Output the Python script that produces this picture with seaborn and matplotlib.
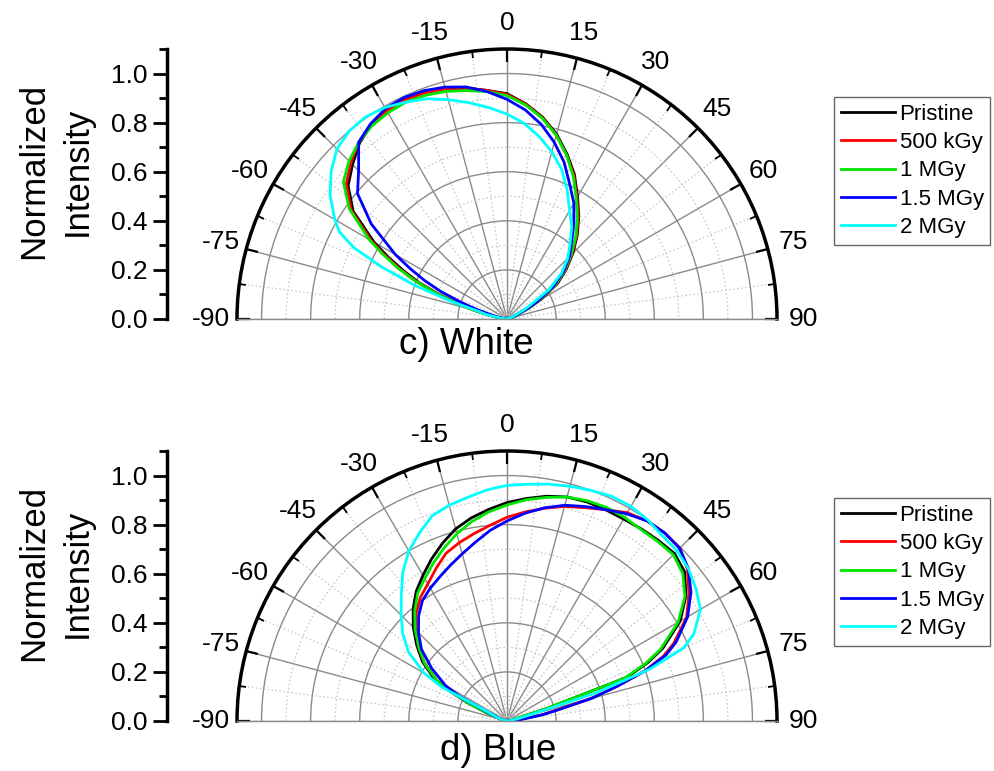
import numpy as np
import pandas as pd
import matplotlib
matplotlib.use("Agg")
import matplotlib.pyplot as plt
import seaborn as sns
from matplotlib.ticker import FixedLocator, MultipleLocator

plt.rcParams['font.family'] = ['Liberation Sans', 'DejaVu Sans']

# ---------------- data ----------------
series = ["Pristine", "500 kGy", "1 MGy", "1.5 MGy", "2 MGy"]
colors = ["#000000", "#FF0000", "#00E600", "#0000FF", "#00FFFF"]

angle_ticks = [-90, -75, -60, -45, -30, -15, 0, 15, 30, 45, 60, 75, 90]
angle_labels = ["-90", "-75", "-60", "-45", "-30", "-15", "0", "15", "30", "45", "60", "75", "90"]
r_ticks = [0.0, 0.2, 0.4, 0.6, 0.8, 1.0]
r_labels = ["0.0", "0.2", "0.4", "0.6", "0.8", "1.0"]

# c) White
white_angles = [-90, -85, -80, -77.5, -75, -72.5, -70, -67.5, -65, -62.5,
                -60, -55, -50, -45, -40, -35, -30, -25, -20, -15,
                -10, -5, 0, 5, 10, 15, 20, 25, 30, 35,
                40, 45, 50, 55, 60, 62.5, 65, 70, 75, 80,
                85, 90]
white_pristine = [0.00, 0.01, 0.04, 0.08, 0.14, 0.21, 0.30, 0.39, 0.465, 0.545,
                  0.625, 0.765, 0.845, 0.89, 0.935, 0.965, 0.98, 0.99, 0.985, 0.972,
                  0.955, 0.935, 0.918, 0.88, 0.835, 0.78, 0.715, 0.65, 0.575, 0.51,
                  0.445, 0.38, 0.315, 0.25, 0.16, 0.11, 0.07, 0.035, 0.015, 0.01,
                  0.005, 0.0]
white_500k = [0.00, 0.01, 0.04, 0.08, 0.14, 0.22, 0.31, 0.40, 0.48, 0.56,
              0.64, 0.775, 0.855, 0.90, 0.94, 0.965, 0.978, 0.985, 0.98, 0.97,
              0.955, 0.935, 0.915, 0.878, 0.832, 0.776, 0.71, 0.645, 0.57, 0.505,
              0.44, 0.375, 0.31, 0.245, 0.155, 0.105, 0.065, 0.03, 0.015, 0.01,
              0.005, 0.0]
white_1M = [0.00, 0.01, 0.04, 0.08, 0.14, 0.22, 0.31, 0.405, 0.49, 0.57,
            0.65, 0.785, 0.87, 0.91, 0.94, 0.96, 0.97, 0.975, 0.97, 0.96,
            0.945, 0.93, 0.91, 0.875, 0.83, 0.775, 0.71, 0.64, 0.565, 0.50,
            0.435, 0.37, 0.305, 0.24, 0.15, 0.10, 0.06, 0.03, 0.015, 0.01,
            0.005, 0.0]
white_1_5M = [0.00, 0.01, 0.03, 0.05, 0.07, 0.13, 0.20, 0.29, 0.37, 0.445,
              0.525, 0.675, 0.795, 0.855, 0.94, 0.97, 0.99, 0.995, 0.99, 0.978,
              0.96, 0.93, 0.895, 0.855, 0.805, 0.745, 0.68, 0.605, 0.545, 0.475,
              0.41, 0.36, 0.30, 0.23, 0.14, 0.10, 0.06, 0.03, 0.015, 0.005,
              0.0, 0.0]
white_2M = [0.00, 0.01, 0.05, 0.09, 0.12, 0.24, 0.40, 0.55, 0.69, 0.77,
            0.81, 0.88, 0.935, 0.98, 1.0, 1.005, 0.995, 0.975, 0.955, 0.925,
            0.895, 0.865, 0.835, 0.80, 0.755, 0.705, 0.65, 0.58, 0.51, 0.46,
            0.40, 0.35, 0.29, 0.21, 0.10, 0.07, 0.04, 0.02, 0.01, 0.0,
            0.0, 0.0]

# d) Blue
blue_angles = [-90, -80, -75, -70, -67.5, -65, -62.5, -60, -55, -50,
               -45, -40, -35, -30, -25, -20, -15, -10, -5, 0,
               5, 10, 15, 20, 25, 30, 35, 40, 45, 50,
               55, 60, 65, 67.5, 70, 72.5, 75, 77.5, 80, 85,
               90]
blue_pristine = [0.0, 0.01, 0.02, 0.05, 0.10, 0.18, 0.26, 0.34, 0.42, 0.48,
                 0.54, 0.595, 0.645, 0.685, 0.728, 0.77, 0.81, 0.84, 0.865, 0.89,
                 0.91, 0.93, 0.945, 0.95, 0.95, 0.95, 0.955, 0.96, 0.965, 0.945,
                 0.89, 0.815, 0.70, 0.62, 0.52, 0.17, 0.05, 0.03, 0.02, 0.01,
                 0.0]
blue_500k = [0.0, 0.01, 0.02, 0.05, 0.09, 0.16, 0.25, 0.33, 0.41, 0.47,
             0.525, 0.575, 0.615, 0.645, 0.685, 0.727, 0.752, 0.775, 0.80, 0.83,
             0.855, 0.88, 0.905, 0.925, 0.95, 0.98, 0.995, 1.0, 0.995, 0.96,
             0.905, 0.845, 0.75, 0.69, 0.60, 0.47, 0.35, 0.21, 0.14, 0.04,
             0.0]
blue_1M = [0.0, 0.01, 0.02, 0.05, 0.10, 0.17, 0.25, 0.33, 0.41, 0.47,
           0.53, 0.585, 0.635, 0.67, 0.71, 0.75, 0.79, 0.825, 0.855, 0.88,
           0.905, 0.925, 0.945, 0.955, 0.96, 0.958, 0.952, 0.955, 0.958, 0.935,
           0.885, 0.805, 0.69, 0.61, 0.51, 0.17, 0.05, 0.03, 0.02, 0.01,
           0.0]
blue_1_5M = [0.0, 0.01, 0.02, 0.04, 0.06, 0.10, 0.22, 0.29, 0.375, 0.455,
             0.51, 0.56, 0.60, 0.625, 0.648, 0.675, 0.705, 0.74, 0.78, 0.815,
             0.85, 0.882, 0.91, 0.93, 0.95, 0.975, 0.995, 1.0, 0.995, 0.965,
             0.915, 0.85, 0.76, 0.70, 0.60, 0.47, 0.36, 0.22, 0.15, 0.05,
             0.0]
blue_2M = [0.0, 0.01, 0.02, 0.04, 0.06, 0.08, 0.30, 0.39, 0.49, 0.555,
           0.61, 0.67, 0.74, 0.80, 0.845, 0.89, 0.91, 0.925, 0.945, 0.96,
           0.968, 0.98, 0.99, 1.0, 1.01, 1.01, 1.0, 0.985, 0.98, 0.965,
           0.94, 0.91, 0.84, 0.78, 0.62, 0.38, 0.10, 0.05, 0.02, 0.01,
           0.0]

panels = [
    dict(title="c) White", angles=white_angles,
         values=[white_pristine, white_500k, white_1M, white_1_5M, white_2M]),
    dict(title="d) Blue", angles=blue_angles,
         values=[blue_pristine, blue_500k, blue_1M, blue_1_5M, blue_2M]),
]

# ---------------- layout (pixels) ----------------
W, H = 995, 771
fig = plt.figure(figsize=(W / 100, H / 100), dpi=100)

R = 270.0            # outer radius in px (r = 1.1)
cx = 507.0
centers_y = [319.0, 721.0]
title_pos = [(466.0, 345.0), (498.0, 750.0)]
legend_top = [97.0, 498.0]
ylabel_center = [171.0, 573.0]

palette = dict(zip(series, colors))

for i, p in enumerate(panels):
    cy = centers_y[i]
    # polar wedge bbox is made square: box side 2R, half-disk in middle half
    box_left = cx - R
    box_top = (cy - R / 2) - R
    ax = fig.add_axes([box_left / W, 1 - (box_top + 2 * R) / H, 2 * R / W, 2 * R / H],
                      projection="polar")
    ax.set_theta_zero_location("N")
    ax.set_theta_direction(-1)
    ax.set_thetamin(-90)
    ax.set_thetamax(90)

    rows = []
    for name, vals in zip(series, p["values"]):
        for a, v in zip(p["angles"], vals):
            rows.append((name, np.deg2rad(a), v))
    df = pd.DataFrame(rows, columns=["sample", "theta", "r"])
    sns.lineplot(data=df, x="theta", y="r", hue="sample", hue_order=series,
                 palette=palette, estimator=None, sort=False, lw=2.0,
                 legend=False, ax=ax)
    ax.set_xlabel("")
    ax.set_ylabel("")
    ax.set_ylim(0, 1.1)

    ax.set_xticks(np.deg2rad(angle_ticks))
    ax.set_xticklabels(angle_labels)
    ax.xaxis.set_minor_locator(FixedLocator(np.deg2rad(np.arange(-82.5, 90, 15))))
    ax.set_yticks(r_ticks[1:])
    ax.set_yticklabels([])
    ax.yaxis.set_minor_locator(FixedLocator([0.1, 0.3, 0.5, 0.7, 0.9]))
    ax.set_axisbelow(True)
    ax.grid(True, which="major", color="#8a8a8a", lw=1.0, ls="-")
    ax.grid(True, which="minor", color="#c4c4c4", lw=0.9, ls=(0, (1.2, 2.0)))
    ax.tick_params(axis="x", which="both", top=True, bottom=False)
    ax.tick_params(axis="x", which="major", direction="in", length=9, width=1.6,
                   color="black", labelsize=19, pad=12)
    ax.tick_params(axis="x", which="minor", direction="in", length=5, width=1.3,
                   color="black")
    ax.tick_params(axis="y", which="both", length=0)
    ax.spines["polar"].set_linewidth(2.5)
    ax.spines["polar"].set_color("black")
    ax.spines["start"].set_color("#8a8a8a")
    ax.spines["start"].set_linewidth(1.0)
    ax.spines["end"].set_color("#8a8a8a")
    ax.spines["end"].set_linewidth(1.0)
    ax.spines["inner"].set_visible(False)

    leg = ax.legend(handles=ax.lines[:5], labels=series, loc="upper left",
                    bbox_to_anchor=(834 / W, 1 - legend_top[i] / H),
                    bbox_transform=fig.transFigure, frameon=True, fancybox=False,
                    edgecolor="#404040", fontsize=16, handlelength=2.45,
                    handletextpad=0.2, labelspacing=0.33, borderpad=0.3,
                    borderaxespad=0)
    leg.get_frame().set_linewidth(1.0)

    # left linear intensity axis
    axl = fig.add_axes([167 / W, 1 - cy / H, 0.002, (R) / H])
    axl.patch.set_visible(False)
    axl.set_ylim(0, 1.1)
    axl.set_yticks(r_ticks)
    axl.set_yticklabels(r_labels)
    axl.yaxis.set_minor_locator(MultipleLocator(0.1))
    axl.set_xticks([])
    for s in ["top", "right", "bottom"]:
        axl.spines[s].set_visible(False)
    axl.spines["left"].set_linewidth(2.5)
    axl.tick_params(axis="y", which="major", length=10, width=2.0, labelsize=19, pad=4)
    axl.tick_params(axis="y", which="minor", length=6, width=2.0)
    axl.set_ylabel("Normalized\nIntensity", fontsize=25, linespacing=1.4)
    axl.yaxis.set_label_coords(94 / W, 1 - ylabel_center[i] / H, transform=fig.transFigure)

    fig.text(title_pos[i][0] / W, 1 - title_pos[i][1] / H, p["title"],
             ha="center", va="center", fontsize=26.5)

fig.savefig("out.png", dpi=100)
